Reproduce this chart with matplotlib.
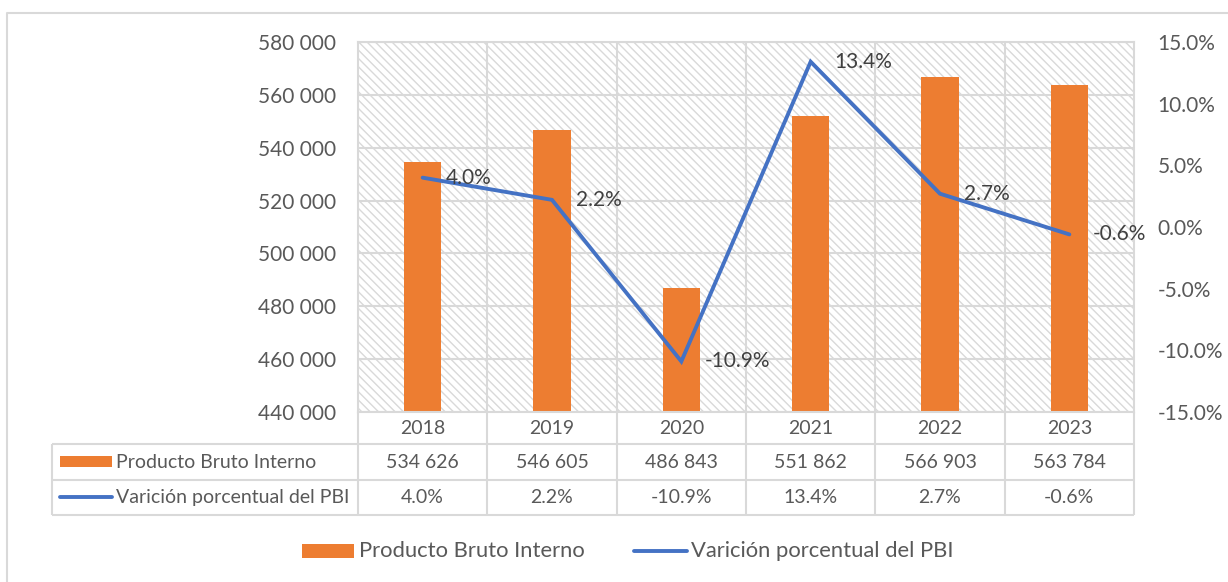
import matplotlib
matplotlib.use('Agg')
import matplotlib.pyplot as plt
from matplotlib.patches import Rectangle
from matplotlib.lines import Line2D
from matplotlib.ticker import FuncFormatter

plt.rcParams['font.family'] = ['Lato', 'DejaVu Sans']

# datos
years = ['2018', '2019', '2020', '2021', '2022', '2023']
pbi = [534626, 546605, 486843, 551862, 566903, 563784]
var_pct = [4.0, 2.2, -10.9, 13.4, 2.7, -0.6]
name_bar = 'Producto Bruto Interno'
name_line = 'Varición porcentual del PBI'

orange = '#ED7D31'
blue = '#4472C4'
grid_c = '#D9D9D9'
txt_c = '#595959'
lab_c = '#404040'

W, H = 1228, 582
fig = plt.figure(figsize=(W / 100, H / 100), dpi=100)
fig.patch.set_facecolor('white')

# lienzo en pixeles para marco, tabla y leyenda
cv = fig.add_axes([0, 0, 1, 1], zorder=0)
cv.set_xlim(0, W)
cv.set_ylim(H, 0)
cv.axis('off')

# area del grafico (pixeles)
px_l, px_r, px_t, px_b = 358, 1134, 42, 412
ax = fig.add_axes([px_l / W, 1 - px_b / H, (px_r - px_l) / W, (px_b - px_t) / H], zorder=1)
ax.patch.set_visible(False)

n = len(years)
xs = list(range(n))
ax.add_patch(Rectangle((0, 0), 1, 1, transform=ax.transAxes, facecolor='white',
                       edgecolor=grid_c, linewidth=0, hatch='\\\\\\\\', zorder=0.1))
ax.bar(xs, pbi, width=0.29, color=orange, zorder=2)
ax.set_xlim(-0.5, n - 0.5)
ax.set_ylim(440000, 580000)
ax.set_yticks(range(440000, 580001, 20000))
ax.yaxis.set_major_formatter(FuncFormatter(lambda v, p: f'{int(v):,}'.replace(',', ' ')))
ax.set_xticks([i + 0.5 for i in range(n - 1)], minor=True)
ax.set_xticks([])
ax.grid(axis='y', color=grid_c, linewidth=1.5, zorder=0.5)
ax.grid(axis='x', which='minor', color=grid_c, linewidth=1.5, zorder=0.5)
ax.tick_params(axis='y', length=0, pad=16, labelsize=15, labelcolor=txt_c)
ax.tick_params(axis='x', which='both', length=0)
for s in ax.spines.values():
    s.set_color(grid_c)
    s.set_linewidth(1.5)

ax2 = ax.twinx()
ax2.plot(xs, var_pct, color=blue, linewidth=2.8, solid_capstyle='round',
         solid_joinstyle='miter', zorder=3)
ax2.set_ylim(-15, 15)
ax2.set_yticks(range(-15, 16, 5))
ax2.yaxis.set_major_formatter(FuncFormatter(lambda v, p: f'{v:.1f}%'))
ax2.tick_params(axis='y', length=0, pad=17, labelsize=15, labelcolor=txt_c)
for s in ax2.spines.values():
    s.set_visible(False)
for i, v in enumerate(var_pct):
    ax2.annotate(f'{v:.1f}%', (i, v), xytext=(17, 0), textcoords='offset points',
                 ha='left', va='center', fontsize=15, color=lab_c)

# marco exterior
cv.plot([7, 7, W + 5], [H + 5, 13, 13], color=grid_c, linewidth=1.5)

# tabla de datos
t_l = 52
rows_y = [412, 444, 480, 515]
col_w = (px_r - px_l) / n
lc = dict(color=grid_c, linewidth=1.5, solid_capstyle='butt')
for k in range(n + 1):
    x = px_l + k * col_w
    cv.plot([x, x], [rows_y[0], rows_y[-1]], **lc)
cv.plot([t_l, t_l], [rows_y[1], rows_y[-1]], **lc)
for y in rows_y[1:]:
    cv.plot([t_l, px_r], [y, y], **lc)

fs_tab = 14
for k in range(n):
    cx = px_l + (k + 0.5) * col_w
    cv.text(cx, (rows_y[0] + rows_y[1]) / 2, years[k], ha='center', va='center',
            fontsize=fs_tab, color=txt_c)
    cv.text(cx, (rows_y[1] + rows_y[2]) / 2, f'{pbi[k]:,}'.replace(',', ' '),
            ha='center', va='center', fontsize=fs_tab, color=txt_c)
    cv.text(cx, (rows_y[2] + rows_y[3]) / 2, f'{var_pct[k]:.1f}%',
            ha='center', va='center', fontsize=fs_tab, color=txt_c)

cv.add_patch(Rectangle((60, 456), 52, 11, facecolor=orange, edgecolor='none'))
cv.text(116, 462, name_bar, ha='left', va='center', fontsize=fs_tab, color=txt_c)
cv.add_line(Line2D([60, 112], [497, 497], color=blue, linewidth=2.8, solid_capstyle='round'))
cv.text(116, 497, name_line, ha='left', va='center', fontsize=fs_tab, color=txt_c)

# leyenda inferior
cv.add_patch(Rectangle((302, 544), 52, 14, facecolor=orange, edgecolor='none'))
cv.text(359, 551, name_bar, ha='left', va='center', fontsize=15.8, color=txt_c)
cv.add_line(Line2D([634, 687], [551, 551], color=blue, linewidth=2.8, solid_capstyle='round'))
cv.text(691, 551, name_line, ha='left', va='center', fontsize=15.8, color=txt_c)

fig.savefig('out.png', dpi=100, facecolor='white')
